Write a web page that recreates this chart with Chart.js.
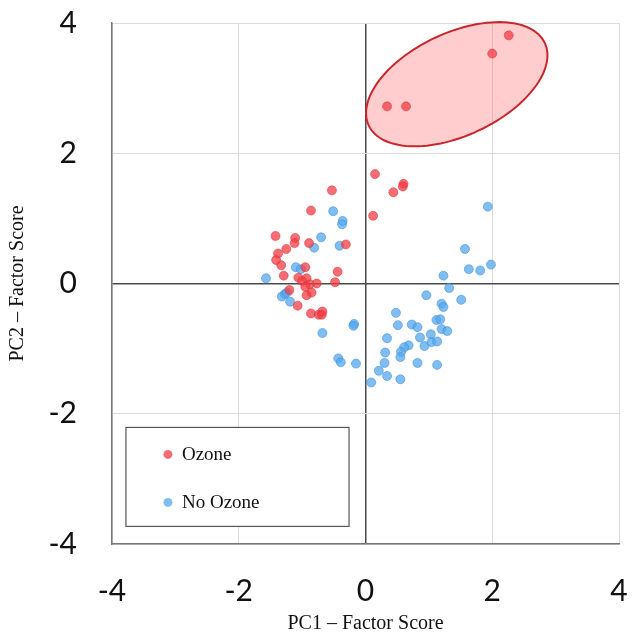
<!DOCTYPE html>
<html>
<head>
<meta charset="utf-8">
<script src="https://cdn.jsdelivr.net/npm/chart.js@4"></script>
<style>
  html, body { margin: 0; padding: 0; background: #fff; }
  #wrap { width: 636px; height: 636px; }
</style>
</head>
<body>
<div id="wrap"><canvas id="c" width="636" height="636"></canvas></div>
<script>
// PCA factor scores
const ozoneX = [0.15, 0.44, 0.60, 0.59, 0.12, -0.53, -0.86, -1.42, -1.11, -1.12, -0.89, -0.31,
  -1.25, -1.38, -1.41, -1.33, -0.95, -0.44, -1.29, -1.06, -0.93, -1.00, -0.77, -0.88, -0.48,
  -0.95, -1.20, -0.85, -0.93, -1.07, -0.86, -0.74, -0.68, -0.69, 0.34, 0.64, 2.00, 2.26];
const ozoneY = [1.68, 1.40, 1.53, 1.49, 1.04, 1.43, 1.12, 0.73, 0.70, 0.62, 0.62, 0.60,
  0.53, 0.46, 0.36, 0.28, 0.25, 0.18, 0.12, 0.09, 0.08, 0.04, 0.00, -0.01, 0.02,
  -0.05, -0.10, -0.14, -0.18, -0.34, -0.46, -0.48, -0.43, -0.48, 2.72, 2.72, 3.53, 3.81];

const noOzoneX = [-0.51, -0.36, -0.37, -0.70, -0.81, -0.41, -1.57, -1.10, -1.02, -1.32, -1.27,
  -1.24, -1.19, -0.68, -0.18, -0.19, -0.43, -0.39, -0.15,
  1.93, 1.57, 1.63, 1.81, 1.98, 1.23, 1.32, 0.96, 1.51, 1.20, 1.23, 0.48, 0.51, 0.73, 0.82,
  1.12, 1.18, 1.20, 1.29, 0.34, 0.86, 1.03, 0.93, 1.04, 1.13, 0.68, 0.61, 0.56, 0.31, 0.55,
  0.30, 0.82, 1.13, 0.21, 0.34, 0.55, 0.09];
const noOzoneY = [1.11, 0.96, 0.91, 0.71, 0.55, 0.58, 0.08, 0.25, 0.22, -0.20, -0.16,
  -0.14, -0.28, -0.76, -0.62, -0.65, -1.15, -1.21, -1.23,
  1.18, 0.53, 0.22, 0.20, 0.29, 0.12, -0.07, -0.18, -0.25, -0.31, -0.36, -0.45, -0.64, -0.63, -0.67,
  -0.56, -0.55, -0.70, -0.73, -0.84, -0.83, -0.78, -0.96, -0.90, -0.89, -0.95, -0.98, -1.05, -1.06, -1.13,
  -1.22, -1.22, -1.25, -1.34, -1.42, -1.47, -1.52];

const seriesLabels = ['Ozone', 'No Ozone'];
const tickValues = [-4, -2, 0, 2, 4];

// highlighted group ellipse: centre and the two half-axis vectors, in data units
const ellipseCenter = [1.44, 3.06];
const ellipseMajor = [1.39, 0.632];
const ellipseMinor = [0.341, -0.714];

const toPoints = (xs, ys) => xs.map((x, i) => ({ x, y: ys[i] }));

const serif = '"Liberation Serif", "DejaVu Serif", serif';
const sans = 'Lato, "Open Sans", sans-serif';

const ellipsePlugin = {
  id: 'ellipsePlugin',
  beforeDatasetsDraw(chart) {
    const { ctx, scales: { x, y } } = chart;
    ctx.save();
    ctx.beginPath();
    for (let i = 0; i <= 120; i++) {
      const t = (i / 120) * Math.PI * 2;
      const dx = ellipseCenter[0] + Math.cos(t) * ellipseMajor[0] + Math.sin(t) * ellipseMinor[0];
      const dy = ellipseCenter[1] + Math.cos(t) * ellipseMajor[1] + Math.sin(t) * ellipseMinor[1];
      const px = x.getPixelForValue(dx);
      const py = y.getPixelForValue(dy);
      if (i === 0) ctx.moveTo(px, py); else ctx.lineTo(px, py);
    }
    ctx.closePath();
    ctx.fillStyle = 'rgba(255, 90, 90, 0.3)';
    ctx.fill();
    ctx.strokeStyle = '#c8262c';
    ctx.lineWidth = 2;
    ctx.stroke();
    ctx.restore();
  }
};

// legend box sitting inside the plot, lower left
const boxLegendPlugin = {
  id: 'boxLegend',
  afterDraw(chart) {
    const { ctx, scales: { x, y } } = chart;
    const left = x.getPixelForValue(-3.78);
    const right = x.getPixelForValue(-0.26);
    const top = y.getPixelForValue(-2.21);
    const bottom = y.getPixelForValue(-3.73);
    ctx.save();
    ctx.fillStyle = '#fff';
    ctx.fillRect(left, top, right - left, bottom - top);
    ctx.strokeStyle = '#555';
    ctx.lineWidth = 1.2;
    ctx.strokeRect(left, top, right - left, bottom - top);
    ctx.font = '19px ' + serif;
    ctx.textBaseline = 'middle';
    chart.data.datasets.forEach((ds, i) => {
      const cy = top + 27 + i * 48;
      ctx.beginPath();
      ctx.arc(left + 42, cy, 4.5, 0, Math.PI * 2);
      ctx.fillStyle = ds.backgroundColor;
      ctx.fill();
      ctx.fillStyle = '#111';
      ctx.fillText(ds.label, left + 56, cy + 1);
    });
    ctx.restore();
  }
};

const gridColor = (c) => c.tick && c.tick.value === 0 ? '#4a4a4a' : '#dcdcdc';
const noScalePadding = (s) => { s.paddingTop = 0; s.paddingBottom = 0; s.paddingLeft = 0; s.paddingRight = 0; };

new Chart(document.getElementById('c'), {
  type: 'scatter',
  data: {
    datasets: [
      {
        label: seriesLabels[0],
        data: toPoints(ozoneX, ozoneY),
        backgroundColor: 'rgba(240, 62, 70, 0.75)',
        borderColor: 'rgba(225, 50, 60, 0.55)',
        borderWidth: 1,
        pointRadius: 4.5
      },
      {
        label: seriesLabels[1],
        data: toPoints(noOzoneX, noOzoneY),
        backgroundColor: 'rgba(85, 168, 238, 0.75)',
        borderColor: 'rgba(60, 140, 220, 0.55)',
        borderWidth: 1,
        pointRadius: 4.5
      }
    ]
  },
  options: {
    responsive: false,
    animation: false,
    layout: { padding: { top: 23, right: 17, left: 0, bottom: 0 } },
    plugins: { legend: { display: false }, tooltip: { enabled: false } },
    scales: {
      x: {
        min: -4, max: 4,
        afterBuildTicks: (s) => { s.ticks = tickValues.map(v => ({ value: v })); },
        afterFit: (s) => { s.height = 92; noScalePadding(s); },
        grid: { color: gridColor, lineWidth: (c) => c.tick && c.tick.value === 0 ? 1.5 : 1, drawTicks: false },
        border: { color: '#777', width: 1.5 },
        ticks: { color: '#111', padding: 29, font: { family: sans, size: 30 } },
        title: { display: true, text: 'PC1 – Factor Score', color: '#111', padding: { top: 0, bottom: 0 }, font: { family: serif, size: 20 } }
      },
      y: {
        min: -4, max: 4,
        afterBuildTicks: (s) => { s.ticks = tickValues.map(v => ({ value: v })); },
        afterFit: (s) => { s.width = 112; noScalePadding(s); },
        grid: { color: gridColor, lineWidth: (c) => c.tick && c.tick.value === 0 ? 1.5 : 1, drawTicks: false },
        border: { color: '#777', width: 1.5 },
        ticks: { color: '#111', padding: 35, font: { family: sans, size: 30 } },
        title: { display: true, text: 'PC2 – Factor Score', color: '#111', padding: { top: 6, bottom: 0 }, font: { family: serif, size: 20 } }
      }
    }
  },
  plugins: [ellipsePlugin, boxLegendPlugin]
});
</script>
</body>
</html>
